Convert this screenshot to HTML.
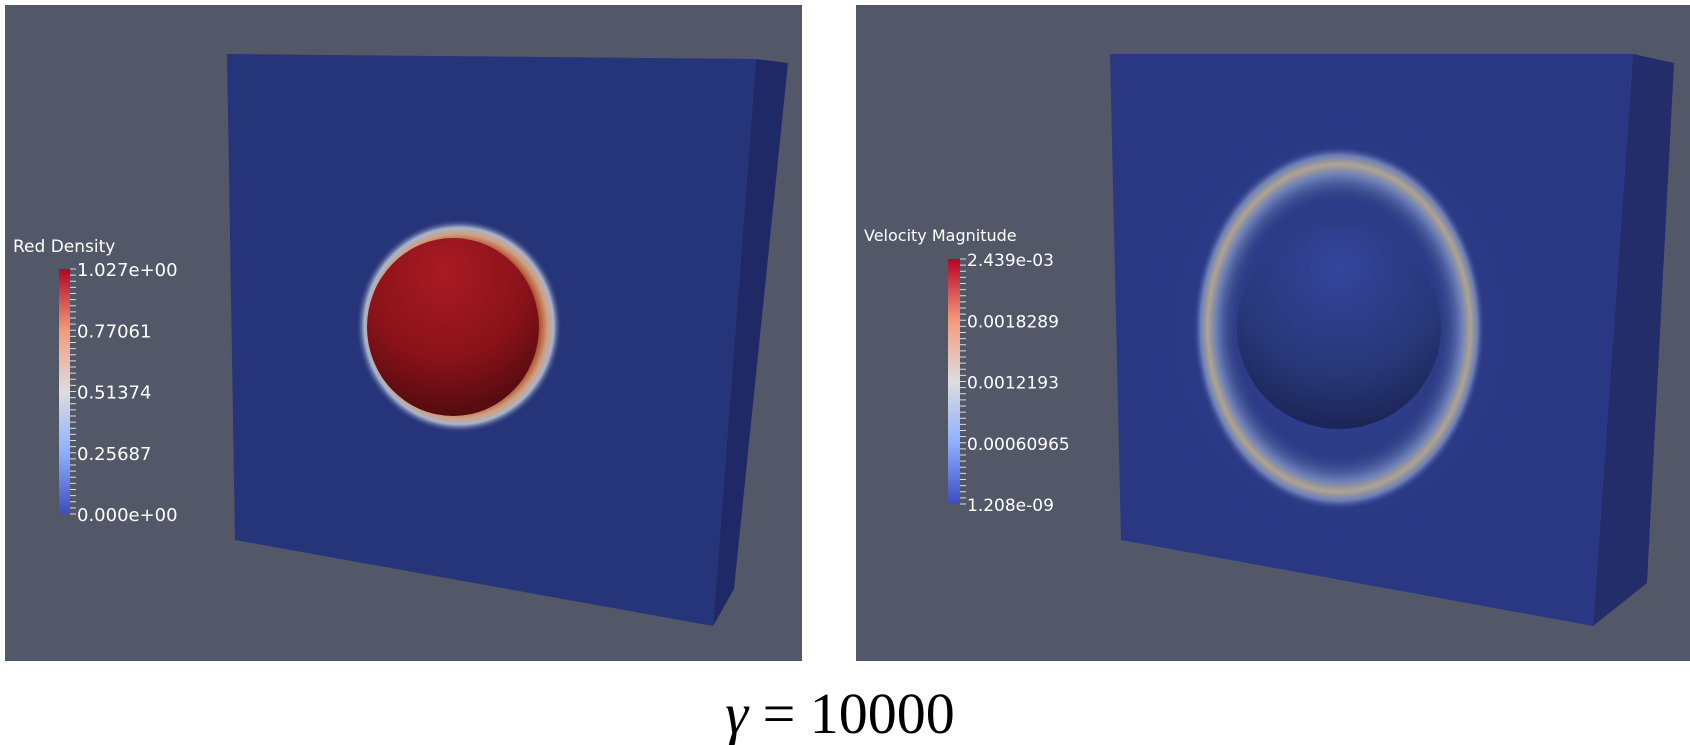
<!DOCTYPE html>
<html><head><meta charset="utf-8"><style>
html,body{margin:0;padding:0;background:#fff;width:1690px;height:745px;overflow:hidden}
svg text{font-family:"DejaVu Sans","Liberation Sans",sans-serif;fill:#fff}
</style></head><body>
<svg width="1690" height="745" viewBox="0 0 1690 745">
<defs>
<linearGradient id="cw" x1="0" y1="1" x2="0" y2="0">
<stop offset="0" stop-color="#3b4cc0"/><stop offset="0.25" stop-color="#8db0fe"/>
<stop offset="0.5" stop-color="#dddddd"/><stop offset="0.75" stop-color="#f49a7b"/>
<stop offset="1" stop-color="#b40426"/></linearGradient>
<radialGradient id="redS" cx="0.45" cy="0.2" r="0.95">
<stop offset="0" stop-color="#aa1a24"/><stop offset="0.5" stop-color="#8a1219"/><stop offset="1" stop-color="#3a080b"/></radialGradient>
<radialGradient id="halo" cx="0.5" cy="0.5" r="0.5">
<stop offset="0.78" stop-color="#b0502e"/><stop offset="0.86" stop-color="#d0a080"/><stop offset="0.92" stop-color="#a8b4cc"/><stop offset="1" stop-color="#263479" stop-opacity="0"/></radialGradient>
<radialGradient id="blueS" cx="0.5" cy="0.2" r="0.95">
<stop offset="0" stop-color="#34449c"/><stop offset="0.55" stop-color="#283778"/><stop offset="1" stop-color="#141b44"/></radialGradient>
<radialGradient id="ring" cx="0.5" cy="0.5" r="0.5">
<stop offset="0.68" stop-color="#27357a" stop-opacity="0"/><stop offset="0.84" stop-color="#6b7eb8"/><stop offset="0.9" stop-color="#b0a490"/><stop offset="0.95" stop-color="#6b7eb8"/><stop offset="1" stop-color="#2c3c88" stop-opacity="0"/></radialGradient>
<radialGradient id="glow" cx="0.5" cy="0.5" r="0.5">
<stop offset="0" stop-color="#4a5ea6" stop-opacity="0.7"/><stop offset="1" stop-color="#2c3c88" stop-opacity="0"/></radialGradient>
</defs>

<rect x="5" y="5" width="797" height="656" fill="#535869"/>
<polygon points="756,59 788,63 734,589 713,626" fill="#1f2966"/>
<polygon points="227,54 756,59 713,626 235,540" fill="#263479"/>
<ellipse cx="459" cy="326" rx="103" ry="107" fill="url(#halo)"/>
<ellipse cx="453" cy="327" rx="86" ry="89" fill="url(#redS)"/>

<rect x="856" y="5" width="834" height="656" fill="#535869"/>
<polygon points="1633,54 1674,63 1647,583 1593,626" fill="#222d6a"/>
<polygon points="1110,54 1633,54 1593,626 1121,540" fill="#2a3884"/>
<ellipse cx="1339" cy="328" rx="230" ry="260" fill="url(#glow)" opacity="0.5"/>
<ellipse cx="1339" cy="328" rx="146" ry="182" fill="url(#ring)"/>
<ellipse cx="1339" cy="328" rx="102" ry="101" fill="url(#blueS)"/>

<g id="cb1"></g>
<g id="cb2"></g>

<text x="840" y="733" text-anchor="middle" style="font-family:'Liberation Serif',serif;fill:#000;font-size:58px"><tspan font-style="italic">γ</tspan> = 10000</text>
</svg>
<script>
const densityLabels = ["1.027e+00","0.77061","0.51374","0.25687","0.000e+00"];
const velocityLabels = ["2.439e-03","0.0018289","0.0012193","0.00060965","1.208e-09"];
const NS='http://www.w3.org/2000/svg';
function bar(gid,title,labels,x,y0,y1,w,tx,ty,fs){
  const g=document.getElementById(gid);
  const t=document.createElementNS(NS,'text');
  
  
  t.setAttribute('x',tx);t.setAttribute('y',ty);t.setAttribute('font-size',fs);t.textContent=title;g.appendChild(t);
  const r=document.createElementNS(NS,'rect');
  
  
  r.setAttribute('x',x);r.setAttribute('y',y0);r.setAttribute('width',w);r.setAttribute('height',y1-y0);r.setAttribute('fill','url(#cw)');g.appendChild(r);
  for(let i=0;i<=40;i++){const yy=y0+(y1-y0)*i/40;const l=document.createElementNS(NS,'line');
    
    
    l.setAttribute('x1',x+w);l.setAttribute('x2',x+w+6);l.setAttribute('y1',yy);l.setAttribute('y2',yy);l.setAttribute('stroke','#ddd');l.setAttribute('stroke-width','1');g.appendChild(l);}
  labels.forEach((s,i)=>{const yy=y0+(y1-y0)*i/(labels.length-1);const tt=document.createElementNS(NS,'text');
    
    
    tt.setAttribute('x',x+w+7);tt.setAttribute('y',yy+7);tt.setAttribute('font-size',fs+1);tt.textContent=s;g.appendChild(tt);});
}
bar('cb1','Red Density',densityLabels,59,269,514,11,13,252,17);
bar('cb2','Velocity Magnitude',velocityLabels,948,259,504,12,864,241,16);
</script>
</body></html>
